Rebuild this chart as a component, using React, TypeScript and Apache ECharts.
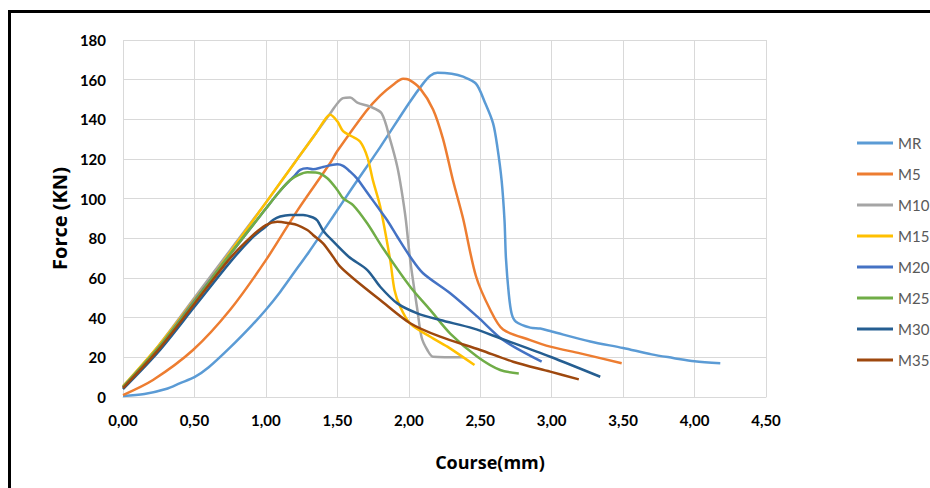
import React, { useEffect, useRef } from "react";
import * as echarts from "echarts";

const seriesNames = ["MR", "M5", "M10", "M15", "M20", "M25", "M30", "M35"];
const seriesColors = ["#5B9BD5", "#ED7D31", "#A5A5A5", "#FFC000", "#4472C4", "#70AD47", "#255E91", "#9E480E"];

const xTicks = [0, 0.5, 1, 1.5, 2, 2.5, 3, 3.5, 4, 4.5];
const yTicks = [0, 20, 40, 60, 80, 100, 120, 140, 160, 180];

const MR: number[][] = [
  [0, 0.5], [0.15, 1.5], [0.3, 4], [0.4, 7], [0.5, 10], [0.6, 15], [0.75, 25], [0.9, 36], [1.0, 44],
  [1.1, 53], [1.2, 63], [1.3, 73], [1.47, 91], [1.6, 105], [1.8, 126], [2.0, 148], [2.1, 158],
  [2.15, 162], [2.2, 163.5], [2.3, 163], [2.38, 161.5], [2.47, 158], [2.53, 149], [2.59, 138],
  [2.62, 126], [2.65, 109], [2.67, 89], [2.68, 70], [2.7, 52], [2.72, 42], [2.75, 38], [2.85, 35],
  [2.92, 34.5], [3.0, 33], [3.27, 28], [3.5, 24.7], [3.7, 21.5], [3.85, 19.7], [4.0, 18], [4.18, 17],
];
const M5: number[][] = [
  [0, 1], [0.21, 8.6], [0.49, 23.7], [0.75, 44], [1.0, 69], [1.22, 94], [1.45, 118], [1.5, 124],
  [1.7, 144], [1.8, 152], [1.9, 158], [1.96, 160.5], [2.0, 160], [2.08, 155.5], [2.17, 145],
  [2.24, 130], [2.31, 109], [2.38, 90], [2.47, 61], [2.57, 44], [2.66, 34], [2.85, 28.7],
  [2.99, 25.4], [3.2, 22], [3.49, 17],
];
const M10: number[][] = [
  [0, 5], [0.25, 26], [0.5, 50], [0.75, 74], [1.0, 98], [1.25, 123], [1.45, 143], [1.5, 148],
  [1.54, 150.7], [1.59, 151], [1.64, 148.4], [1.73, 146.4], [1.81, 143], [1.87, 129.6], [1.92, 116],
  [1.95, 104], [1.98, 89], [2.01, 69], [2.06, 44], [2.09, 30], [2.13, 23.7], [2.17, 20.3], [2.38, 20],
];
const M15: number[][] = [
  [0, 5.5], [0.25, 26], [0.5, 49], [0.61, 59], [0.75, 73], [0.9, 88], [1.0, 98], [1.2, 118],
  [1.35, 133], [1.42, 140.5], [1.45, 142.3], [1.5, 139], [1.54, 134], [1.6, 131.5], [1.66, 128.7],
  [1.71, 121], [1.75, 109], [1.8, 96], [1.87, 69], [1.9, 54], [1.94, 45.5], [2.01, 37],
  [2.15, 30.4], [2.27, 25.4], [2.46, 16.1],
];
const M20: number[][] = [
  [0, 5], [0.25, 25], [0.5, 48.5], [0.75, 72], [1.0, 95], [1.1, 104], [1.2, 111.5], [1.24, 114.5],
  [1.29, 115.3], [1.33, 114.8], [1.4, 116], [1.5, 117.3], [1.54, 116.5], [1.59, 113.6], [1.64, 110],
  [1.68, 106], [1.73, 101], [1.78, 96], [1.85, 89], [1.92, 80.8], [2.01, 70.7], [2.1, 62.4],
  [2.29, 52.3], [2.48, 40.5], [2.66, 28.7], [2.93, 17.8],
];
const M25: number[][] = [
  [0, 5], [0.25, 25], [0.5, 48], [0.75, 72], [1.0, 95], [1.1, 104], [1.17, 109.4], [1.23, 112],
  [1.29, 113.3], [1.36, 113.1], [1.43, 110.3], [1.5, 104.4], [1.54, 100.2], [1.61, 96.8],
  [1.71, 87.5], [1.82, 75], [2.01, 55.6], [2.15, 43.9], [2.29, 32], [2.48, 20.3], [2.64, 13.6], [2.77, 11.9],
];
const M30: number[][] = [
  [0, 4], [0.25, 23], [0.5, 45.5], [0.75, 68], [0.9, 80], [1.0, 86], [1.05, 89.2], [1.1, 91],
  [1.17, 91.8], [1.26, 91.8], [1.33, 90.5], [1.36, 89], [1.4, 84], [1.45, 80], [1.58, 70.7],
  [1.71, 64], [1.8, 55.6], [1.92, 47.2], [2.06, 42.2], [2.22, 38.8], [2.45, 34.6], [2.64, 29.6],
  [2.99, 20.3], [3.34, 10.2],
];
const M35: number[][] = [
  [0, 4.5], [0.25, 24], [0.5, 47], [0.75, 70], [0.9, 81], [1.0, 86.7], [1.08, 88.4], [1.17, 87.5],
  [1.22, 86.7], [1.29, 84.2], [1.33, 81.7], [1.4, 77.5], [1.47, 70.7], [1.52, 65.7], [1.61, 59.9],
  [1.8, 48.9], [2.01, 37.2], [2.22, 30.4], [2.5, 23.7], [2.73, 17.8], [2.99, 12.8], [3.19, 8.9],
];

const seriesData = [MR, M5, M10, M15, M20, M25, M30, M35];

export default function App() {
  const ref = useRef<HTMLDivElement>(null);
  useEffect(() => {
    if (!ref.current) return;
    const chart = echarts.init(ref.current, undefined, { renderer: "svg" });
    const fmt = (v: number) => v.toFixed(2).replace(".", ",");
    chart.setOption({
      animation: false,
      backgroundColor: "#ffffff",
      textStyle: { fontFamily: "Lato" },
      graphic: [
        {
          type: "rect",
          shape: { x: 9.5, y: 11.5, width: 960, height: 520 },
          style: { fill: "none", stroke: "#000000", lineWidth: 3 },
          z: 100,
        },
      ],
      grid: { left: 123, right: 164, top: 40, bottom: 91, containLabel: false },
      legend: {
        orient: "vertical",
        left: 852,
        top: 130,
        icon: "rect",
        itemWidth: 36,
        itemHeight: 3,
        itemGap: 15,
        data: seriesNames,
        textStyle: { color: "#595959", fontSize: 15, fontFamily: "Lato", lineHeight: 16 },
      },
      xAxis: {
        type: "value",
        min: xTicks[0],
        max: xTicks[xTicks.length - 1],
        interval: 0.5,
        name: "Course(mm)",
        nameLocation: "middle",
        nameGap: 56,
        nameTextStyle: {
          fontSize: 18,
          fontWeight: "bold",
          color: "#000",
          fontFamily: "Open Sans",
          padding: [0, 0, 0, 91],
        },
        axisLine: { show: true, lineStyle: { color: "#d9d9d9", width: 1 } },
        axisTick: { show: false },
        axisLabel: { formatter: fmt, fontSize: 15, fontWeight: "bold", color: "#000", margin: 15 },
        splitLine: { show: true, lineStyle: { color: "#d9d9d9", width: 1 } },
      },
      yAxis: {
        type: "value",
        min: yTicks[0],
        max: yTicks[yTicks.length - 1],
        interval: 20,
        name: "Force (KN)",
        nameLocation: "middle",
        nameGap: 53,
        nameTextStyle: { fontSize: 20, fontWeight: "bold", color: "#000", fontFamily: "Open Sans" },
        axisLine: { show: false },
        axisTick: { show: false },
        axisLabel: { fontSize: 15, fontWeight: "bold", color: "#000", margin: 17 },
        splitLine: { show: true, lineStyle: { color: "#d9d9d9", width: 1 } },
      },
      series: seriesNames.map((name, i) => ({
        name,
        type: "line",
        data: seriesData[i],
        symbol: "none",
        smooth: 0.3,
        color: seriesColors[i],
        lineStyle: { width: 2.5, color: seriesColors[i] },
      })),
    });
    return () => chart.dispose();
  }, []);
  return (
    <div
      ref={ref}
      style={{ position: "absolute", left: 0, top: 0, width: 930, height: 488 }}
    />
  );
}
